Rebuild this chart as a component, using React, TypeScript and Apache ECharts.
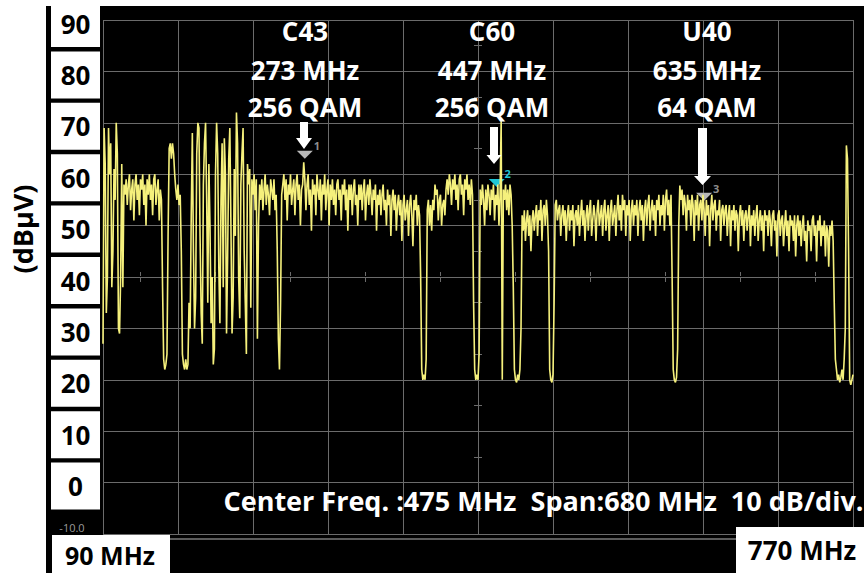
import React, { useEffect, useRef } from "react";
import * as echarts from "echarts";

// Spectrum trace: one level (dBµV) per MHz, starting at 90 MHz
const FREQ_START_MHZ = 90;
const FREQ_STEP_MHZ = 1;
const traceLevelDbuV = [
  /* 90 */ 27, 69, 62, 33, 40, 69, 60, 66, 38, 45,
  /* 100 */ 61, 55, 70, 64, 30, 29, 40, 62, 38, 58,
  /* 110 */ 56, 59, 54, 58, 60, 53, 57, 59, 51, 58,
  /* 120 */ 60, 55, 58, 52, 59, 57, 60, 54, 58, 50,
  /* 130 */ 59, 56, 60, 55, 58, 52, 59, 60, 54, 57,
  /* 140 */ 59, 51, 57, 55, 38, 24, 22, 23, 25, 48,
  /* 150 */ 65, 66, 63, 66, 64, 60, 57, 55, 58, 54,
  /* 160 */ 56, 45, 25, 23, 22, 24, 22, 23, 35, 30,
  /* 170 */ 52, 68, 45, 30, 36, 64, 70, 69, 48, 33,
  /* 180 */ 27, 58, 66, 70, 55, 35, 62, 50, 31, 40,
  /* 190 */ 23, 26, 60, 70, 64, 42, 31, 55, 66, 38,
  /* 200 */ 67, 60, 29, 44, 63, 69, 50, 29, 36, 61,
  /* 210 */ 48, 72, 66, 40, 32, 58, 64, 69, 45, 35,
  /* 220 */ 25, 62, 58, 61, 34, 59, 56, 60, 53, 59,
  /* 230 */ 28, 50, 58, 55, 59, 53, 57, 60, 54, 58,
  /* 240 */ 56, 52, 59, 57, 55, 59, 53, 56, 45, 28,
  /* 250 */ 22, 35, 56, 58, 60, 55, 59, 51, 58, 56,
  /* 260 */ 60, 54, 57, 59, 52, 58, 60, 55, 58, 50,
  /* 270 */ 57, 58, 62.3, 59, 53, 58, 60, 54, 57, 49,
  /* 280 */ 59, 56, 58, 52, 60, 57, 55, 59, 51, 58,
  /* 290 */ 56, 60, 53, 57, 59, 50, 58, 55, 59, 54,
  /* 300 */ 57, 52, 58, 59, 55, 57, 51, 58, 56, 59,
  /* 310 */ 53, 57, 49, 58, 55, 58, 52, 57, 59, 54,
  /* 320 */ 56, 50, 58, 55, 58, 53, 57, 59, 51, 56,
  /* 330 */ 58, 54, 59, 56, 52, 57, 55, 58, 49, 56,
  /* 340 */ 54, 57, 52, 56, 58, 53, 55, 50, 57, 54,
  /* 350 */ 56, 48, 55, 57, 53, 56, 49, 54, 56, 52,
  /* 360 */ 55, 47, 54, 56, 51, 53, 55, 48, 54, 56,
  /* 370 */ 52, 46, 55, 53, 56, 50, 54, 52, 40, 22,
  /* 380 */ 20, 21, 20, 24, 53, 55, 50, 54, 49, 55,
  /* 390 */ 53, 58, 56, 57, 51, 55, 56, 50, 54, 55,
  /* 400 */ 52, 57, 59, 56, 60, 58, 54, 59, 57, 60,
  /* 410 */ 55, 58, 53, 59, 60, 56, 58, 52, 59, 57,
  /* 420 */ 60, 55, 58, 54, 59, 56, 35, 22, 20, 21,
  /* 430 */ 20, 25, 57, 54, 58, 55, 50, 57, 53, 58,
  /* 440 */ 56, 52, 57, 55, 58, 51, 56, 54, 58, 50,
  /* 450 */ 56, 70.6, 20, 57, 55, 58, 53, 57, 52, 58,
  /* 460 */ 56, 50, 38, 22, 20, 19.5, 21, 20, 22, 30,
  /* 470 */ 52, 49, 53, 47, 51, 53, 48, 52, 45, 51,
  /* 480 */ 53, 49, 52, 54, 48, 53, 51, 55, 47, 53,
  /* 490 */ 54, 50, 55, 52, 45, 22, 20, 19.5, 21, 35,
  /* 500 */ 54, 55, 51, 53, 54, 48, 52, 54, 50, 53,
  /* 510 */ 47, 52, 54, 49, 53, 51, 54, 46, 52, 53,
  /* 520 */ 50, 54, 48, 52, 55, 50, 53, 47, 52, 54,
  /* 530 */ 49, 53, 55, 48, 51, 54, 52, 47, 53, 55,
  /* 540 */ 50, 52, 54, 48, 53, 55, 49, 52, 54, 47,
  /* 550 */ 53, 55, 50, 52, 54, 48, 53, 56, 51, 54,
  /* 560 */ 49, 56, 53, 55, 48, 54, 52, 55, 47, 53,
  /* 570 */ 55, 50, 54, 52, 55, 48, 53, 55, 51, 54,
  /* 580 */ 47, 53, 55, 50, 54, 56, 49, 53, 55, 51,
  /* 590 */ 54, 48, 55, 53, 56, 50, 54, 52, 56, 49,
  /* 600 */ 55, 57, 52, 55, 50, 56, 40, 22, 20, 19.5,
  /* 610 */ 20.5, 26, 50, 57.8, 55, 57, 52, 56, 54, 49,
  /* 620 */ 56, 53, 55, 50, 56, 54, 47, 55, 52, 56,
  /* 630 */ 49, 54, 55, 51, 56, 53, 48, 55, 52, 54,
  /* 640 */ 46, 53, 56, 51, 54, 55, 49, 53, 52, 55,
  /* 650 */ 47, 53, 54, 50, 53, 54, 48, 52, 54, 46,
  /* 660 */ 53, 51, 54, 49, 53, 52, 45, 52, 54, 50,
  /* 670 */ 53, 47, 52, 53, 49, 52, 54, 46, 52, 50,
  /* 680 */ 53, 48, 52, 54, 47, 51, 53, 49, 52, 45,
  /* 690 */ 53, 51, 52, 48, 53, 51, 46, 52, 53, 49,
  /* 700 */ 51, 44, 52, 53, 48, 51, 52, 46, 50, 53,
  /* 710 */ 48, 51, 45, 52, 50, 51, 47, 52, 44, 50,
  /* 720 */ 52, 48, 51, 46, 50, 52, 47, 49, 43, 51,
  /* 730 */ 49, 50, 45, 51, 52, 48, 50, 43, 51, 49,
  /* 740 */ 52, 46, 50, 48, 51, 44, 50, 49, 42, 50,
  /* 750 */ 48, 51, 47, 35, 24, 22, 20, 21, 19.5, 20.5,
  /* 760 */ 22, 20, 24, 30, 65.6, 63, 45, 20, 19, 20,
  /* 770 */ 21,
];

// Axis ranges
const FREQ_MIN = 90;
const FREQ_MAX = 770;
const LEVEL_MIN = -10;
const LEVEL_MAX = 90;
const LEVEL_STEP = 10;

// Markers
const markerNames = ["1", "2", "3"];
const markerFreqs = [273, 447, 635];
const markerLevels = [63.8, 58.3, 55.6];
const markerColors = ["#b8b8b8", "#1fc6d6", "#b8b8b8"];

// Channel annotations
const channelNames = ["C43", "C60", "U40"];
const channelFreqTexts = ["273 MHz", "447 MHz", "635 MHz"];
const channelModTexts = ["256 QAM", "256 QAM", "64 QAM"];

const FONT = "'Open Sans', 'DejaVu Sans', sans-serif";

export default function App() {
  const ref = useRef<HTMLDivElement>(null);

  useEffect(() => {
    if (!ref.current) return;
    const chart = echarts.init(ref.current, undefined, { renderer: "svg" });

    const labelCenters = [305, 492, 707];
    const arrows = [
      { x: 304, top: 122, shaftBottom: 138, tip: 149, sw: 4, hw: 8 },
      { x: 494, top: 127, shaftBottom: 155, tip: 164, sw: 4, hw: 7.5 },
      { x: 702.5, top: 128, shaftBottom: 176, tip: 185, sw: 4.5, hw: 8.5 },
    ];

    const graphics: any[] = [];
    channelNames.forEach((name, i) => {
      const lines = [name, channelFreqTexts[i], channelModTexts[i]];
      const ys = [31, 70, 107];
      lines.forEach((t, j) => {
        graphics.push({
          type: "text",
          z: 100,
          x: labelCenters[i],
          y: ys[j],
          style: {
            text: t,
            fill: "#ffffff",
            font: `bold 26px ${FONT}`,
            align: "center",
            verticalAlign: "middle",
          },
        });
      });
    });
    arrows.forEach((a) => {
      graphics.push({
        type: "polygon",
        z: 101,
        shape: {
          points: [
            [a.x - a.sw, a.top],
            [a.x + a.sw, a.top],
            [a.x + a.sw, a.shaftBottom],
            [a.x + a.hw, a.shaftBottom],
            [a.x, a.tip],
            [a.x - a.hw, a.shaftBottom],
            [a.x - a.sw, a.shaftBottom],
          ],
        },
        style: { fill: "#ffffff" },
      });
    });
    // bottom text
    graphics.push({
      type: "text",
      z: 100,
      x: 543.5,
      y: 500,
      style: {
        text: "Center Freq. :475 MHz  Span:680 MHz  10 dB/div.",
        fill: "#ffffff",
        font: `bold 27px ${FONT}`,
        align: "center",
        verticalAlign: "middle",
      },
    });
    // y unit
    graphics.push({
      type: "text",
      z: 100,
      x: 22,
      y: 229,
      rotation: Math.PI / 2,
      style: {
        text: "(dBµV)",
        fill: "#000000",
        font: `bold 27px ${FONT}`,
        align: "center",
        verticalAlign: "middle",
      },
    });
    // -10.0 label
    graphics.push({
      type: "text",
      z: 100,
      x: 72,
      y: 527,
      style: {
        text: "-10.0",
        fill: "#9a9a9a",
        font: `11px ${FONT}`,
        align: "center",
        verticalAlign: "middle",
      },
    });
    // bottom strip line
    graphics.push({
      type: "line",
      z: 99,
      shape: { x1: 170, y1: 539, x2: 736, y2: 539 },
      style: { stroke: "#7a7a7a", lineWidth: 1.5 },
    });
    // start / stop boxes
    graphics.push({
      type: "rect",
      z: 100,
      shape: { x: 52, y: 535, width: 118, height: 40 },
      style: { fill: "#ffffff" },
    });
    graphics.push({
      type: "text",
      z: 101,
      x: 110,
      y: 555,
      style: {
        text: "90 MHz",
        fill: "#000000",
        font: `bold 25px ${FONT}`,
        align: "center",
        verticalAlign: "middle",
      },
    });
    graphics.push({
      type: "rect",
      z: 100,
      shape: { x: 736, y: 527, width: 130, height: 48 },
      style: { fill: "#ffffff" },
    });
    graphics.push({
      type: "text",
      z: 101,
      x: 802,
      y: 550,
      style: {
        text: "770 MHz",
        fill: "#000000",
        font: `bold 26px ${FONT}`,
        align: "center",
        verticalAlign: "middle",
      },
    });

    const markerOffsets: [number, number][] = [
      [12, -9],
      [11, -9],
      [12, -8],
    ];

    const gridColor = "#6b6b6b";
    const tickAxisBase = {
      type: "value",
      min: 0,
      max: 10,
      interval: 0.5,
      axisLine: { show: false },
      axisLabel: { show: false },
      splitLine: { show: false },
    };

    const option: any = {
      animation: false,
      backgroundColor: "transparent",
      grid: { left: 103, top: 17, width: 750, height: 517 },
      xAxis: [
        { type: "value", min: FREQ_MIN, max: FREQ_MAX, show: false },
        {
          type: "value",
          min: 0,
          max: 10,
          interval: 1,
          axisLine: { show: false },
          axisTick: { show: false },
          axisLabel: { show: false },
          splitLine: { show: true, lineStyle: { color: gridColor, width: 1 } },
        },
        {
          ...tickAxisBase,
          position: "bottom",
          offset: -258,
          axisTick: { show: true, length: 4, inside: false, lineStyle: { color: gridColor } },
        },
        {
          ...tickAxisBase,
          position: "bottom",
          offset: -258,
          axisTick: { show: true, length: 4, inside: true, lineStyle: { color: gridColor } },
        },
      ],
      yAxis: [
        {
          type: "value",
          min: LEVEL_MIN,
          max: LEVEL_MAX,
          interval: LEVEL_STEP,
          axisLine: { show: false },
          axisTick: { show: false },
          splitLine: { show: true, lineStyle: { color: gridColor, width: 1 } },
          axisLabel: {
            margin: 3,
            padding: [7, 0, 0, 0],
            formatter: (v: number) => (v === LEVEL_MIN ? "" : `{b|${v}}`),
            rich: {
              b: {
                backgroundColor: "#ffffff",
                width: 49,
                height: 47,
                lineHeight: 47,
                align: "center",
                verticalAlign: "middle",
                fontSize: 26,
                fontWeight: "bold",
                fontFamily: FONT,
                color: "#000000",
              },
            },
          },
        },
        {
          ...tickAxisBase,
          position: "left",
          offset: -375,
          axisTick: { show: true, length: 4, inside: false, lineStyle: { color: gridColor } },
        },
        {
          ...tickAxisBase,
          position: "left",
          offset: -375,
          axisTick: { show: true, length: 4, inside: true, lineStyle: { color: gridColor } },
        },
      ],
      graphic: graphics,
      series: [
        {
          type: "line",
          xAxisIndex: 0,
          yAxisIndex: 0,
          showSymbol: false,
          symbol: "none",
          data: traceLevelDbuV.map((v, i) => [FREQ_START_MHZ + i * FREQ_STEP_MHZ, v]),
          lineStyle: { color: "#f5f07c", width: 1.6 },
          itemStyle: { color: "#f5f07c" },
          z: 5,
          markPoint: {
            animation: false,
            data: markerNames.map((n, i) => ({
              coord: [markerFreqs[i], markerLevels[i]],
              symbol: "triangle",
              symbolRotate: 180,
              symbolSize: [16, 8],
              itemStyle: { color: markerColors[i] },
              label: {
                show: true,
                formatter: n,
                position: "inside",
                offset: markerOffsets[i],
                color: markerColors[i] === "#1fc6d6" ? "#1fc6d6" : "#8e8e8e",
                fontSize: 11,
                fontWeight: "bold",
                fontFamily: FONT,
              },
            })),
          },
        },
      ],
    };

    chart.setOption(option);
    return () => chart.dispose();
  }, []);

  return (
    <div style={{ position: "absolute", left: 0, top: 0, width: 864, height: 573, background: "#ffffff" }}>
      <div style={{ position: "absolute", left: 46, top: 6, width: 818, height: 567, background: "#000000" }} />
      <div ref={ref} style={{ position: "absolute", left: 0, top: 0, width: 864, height: 573 }} />
    </div>
  );
}
